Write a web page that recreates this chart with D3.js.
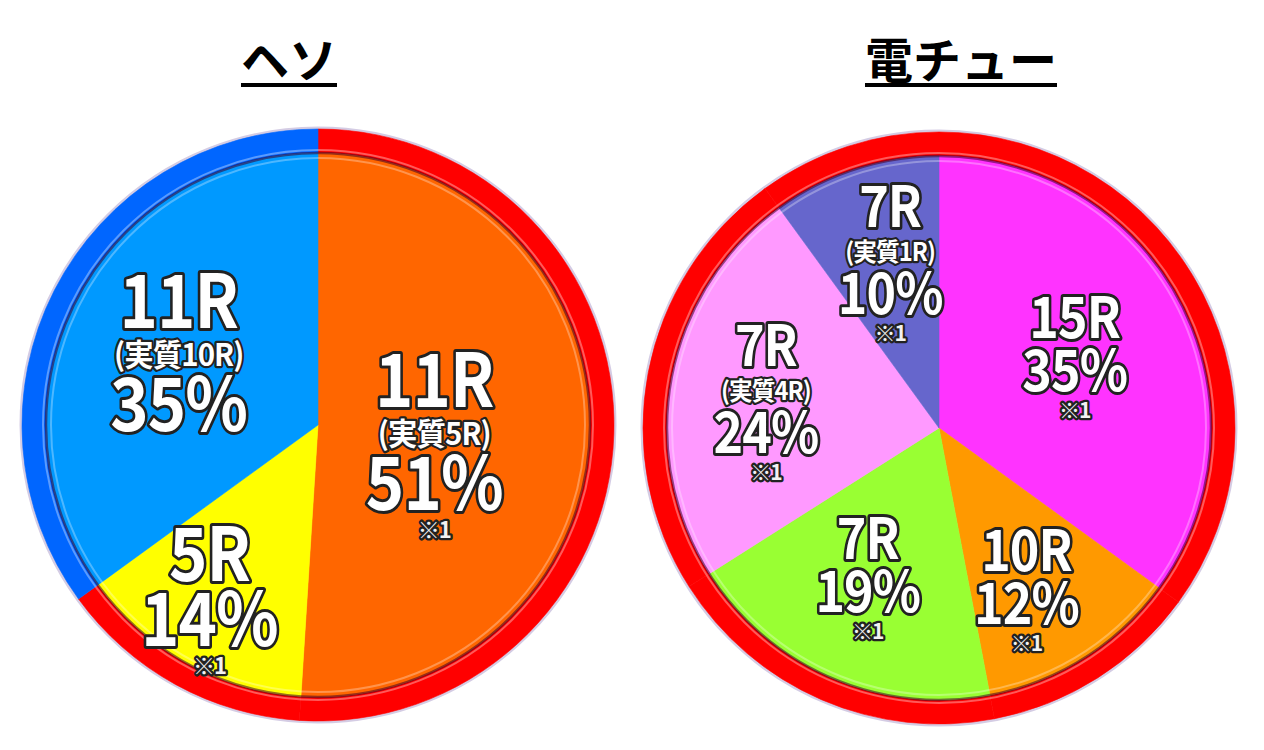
<!DOCTYPE html>
<html>
<head>
<meta charset="utf-8">
<script src="https://cdn.jsdelivr.net/npm/d3@7"></script>
<style>
  body { margin: 0; background: #fff; }
  svg { display: block; }
</style>
</head>
<body>
<div id="container"></div>
<script>
// ---- data ----
const titles = ["ヘソ", "電チュー"];

// ヘソ, clockwise from 12 o'clock
const hesoRounds = ["11R", "5R", "11R"];
const hesoReal   = ["(実質5R)", null, "(実質10R)"];
const hesoPct    = [51, 14, 35];
const hesoNote   = ["※1", "※1", null];

// 電チュー, clockwise from 12 o'clock
const denchuRounds = ["15R", "10R", "7R", "7R", "7R"];
const denchuReal   = [null, null, null, "(実質4R)", "(実質1R)"];
const denchuPct    = [35, 12, 19, 24, 10];
const denchuNote   = ["※1", "※1", "※1", "※1", "※1"];

// ---- styles / layout ----
const hesoFill   = ["#ff6600", "#ffff00", "#0099ff"];
const hesoRing   = ["#ff0000", "#ff0000", "#0066ff"];
const denchuFill = ["#ff33ff", "#ff9900", "#99ff33", "#ff99ff", "#6666cc"];
const denchuRing = ["#ff0000", "#ff0000", "#ff0000", "#ff0000", "#ff0000"];

// label anchor: radius and angle nudge (degrees) per slice
const hesoLabelPos   = [{r: 118, da: 8}, {r: 206, da: 3}, {r: 157, da: 0.5}];
const denchuLabelPos = [{r: 153, da: -0.5}, {r: 184, da: 4}, {r: 166, da: 2}, {r: 175, da: -2.3}, {r: 172, da: 1.5}];

const width = 1264, height = 750;
const outerR = 296, innerR = 272;

const svg = d3.select("#container").append("svg")
  .attr("width", width)
  .attr("height", height);

const pies = [
  { title: titles[0], tx: 289, cx: 318, cy: 425,
    rounds: hesoRounds, real: hesoReal, pct: hesoPct, note: hesoNote,
    fill: hesoFill, ring: hesoRing, pos: hesoLabelPos,
    size: {main: 74, sub: 31, note: 22}, adv: {main: 65, sub: 38, note: 28} },
  { title: titles[1], tx: 961, cx: 939, cy: 428,
    rounds: denchuRounds, real: denchuReal, pct: denchuPct, note: denchuNote,
    fill: denchuFill, ring: denchuRing, pos: denchuLabelPos,
    size: {main: 57, sub: 25, note: 21}, adv: {main: 53, sub: 34, note: 27} }
];

const labelFont = "'Noto Sans CJK JP', 'Noto Sans', sans-serif";
const xSqueeze = {main: 0.88, sub: 0.95, note: 1};

const pie = d3.pie().sort(null).value(d => d);
const sliceArc = d3.arc().innerRadius(0).outerRadius(innerR);
const ringArc = d3.arc().innerRadius(innerR).outerRadius(outerR);

pies.forEach(p => {
  // title with underline
  const title = svg.append("text")
    .attr("x", p.tx)
    .attr("y", 78)
    .attr("text-anchor", "middle")
    .style("font-family", labelFont)
    .style("font-weight", 700)
    .style("font-size", "48px")
    .attr("fill", "#000")
    .text(p.title);
  const tw = title.node().getComputedTextLength();
  svg.append("rect")
    .attr("x", p.tx - tw / 2)
    .attr("y", 83)
    .attr("width", tw)
    .attr("height", 4)
    .attr("fill", "#000");

  const g = svg.append("g").attr("transform", `translate(${p.cx},${p.cy})`);
  const arcs = pie(p.pct);

  // thin lavender outline
  g.append("circle").attr("r", outerR + 1)
    .attr("fill", "none").attr("stroke", "#d4cce4").attr("stroke-width", 3);

  // ring
  g.selectAll("path.ring").data(arcs).join("path")
    .attr("class", "ring")
    .attr("d", ringArc)
    .attr("fill", (d, i) => p.ring[i])
    .attr("stroke", (d, i) => p.ring[i])
    .attr("stroke-width", 0.6);

  // light stripe inside ring
  g.append("circle").attr("r", innerR + 3)
    .attr("fill", "none").attr("stroke", "rgba(255,255,255,0.35)").attr("stroke-width", 2);

  // slices
  g.selectAll("path.slice").data(arcs).join("path")
    .attr("class", "slice")
    .attr("d", sliceArc)
    .attr("fill", (d, i) => p.fill[i])
    .attr("stroke", (d, i) => p.fill[i])
    .attr("stroke-width", 0.6);

  // dark shadow edge + inner highlight
  g.append("circle").attr("r", innerR)
    .attr("fill", "none").attr("stroke", "rgba(60,0,40,0.55)").attr("stroke-width", 2.5);
  g.append("circle").attr("r", innerR - 5)
    .attr("fill", "none").attr("stroke", "rgba(255,255,255,0.3)").attr("stroke-width", 2);

  // labels
  arcs.forEach((a, i) => {
    const lines = [{kind: "main", text: p.rounds[i]}];
    if (p.real[i]) lines.push({kind: "sub", text: p.real[i]});
    lines.push({kind: "main", text: p.pct[i] + "%"});
    if (p.note[i]) lines.push({kind: "note", text: p.note[i]});

    // baselines relative to first baseline
    let y = 0;
    const base = lines.map((l, k) => { if (k > 0) y += p.adv[l.kind]; return y; });
    const top = -p.size.main * 0.73;
    const bottom = base[base.length - 1];
    const shift = -(top + bottom) / 2;

    const ang = (a.startAngle + a.endAngle) / 2 + p.pos[i].da * Math.PI / 180;
    const ax = Math.sin(ang) * p.pos[i].r;
    const ay = -Math.cos(ang) * p.pos[i].r;

    const lg = g.append("g").attr("transform", `translate(${ax},${ay + shift})`);
    lines.forEach((l, k) => {
      const fs = p.size[l.kind];
      lg.append("text")
        .attr("x", 0)
        .attr("y", base[k])
        .attr("transform", `scale(${xSqueeze[l.kind]},1)`)
        .attr("text-anchor", "middle")
        .style("font-family", labelFont)
        .style("font-weight", 700)
        .style("font-size", fs + "px")
        .style("letter-spacing", l.kind === "main" ? "-1px" : "-1px")
        .style("paint-order", "stroke")
        .attr("fill", l.kind === "note" ? "#f2f2f2" : "#fff")
        .attr("stroke", "#222")
        .attr("stroke-width", l.kind === "main" ? 6 : 4.5)
        .attr("stroke-linejoin", "round")
        .text(l.text);
    });
  });
});
</script>
</body>
</html>
